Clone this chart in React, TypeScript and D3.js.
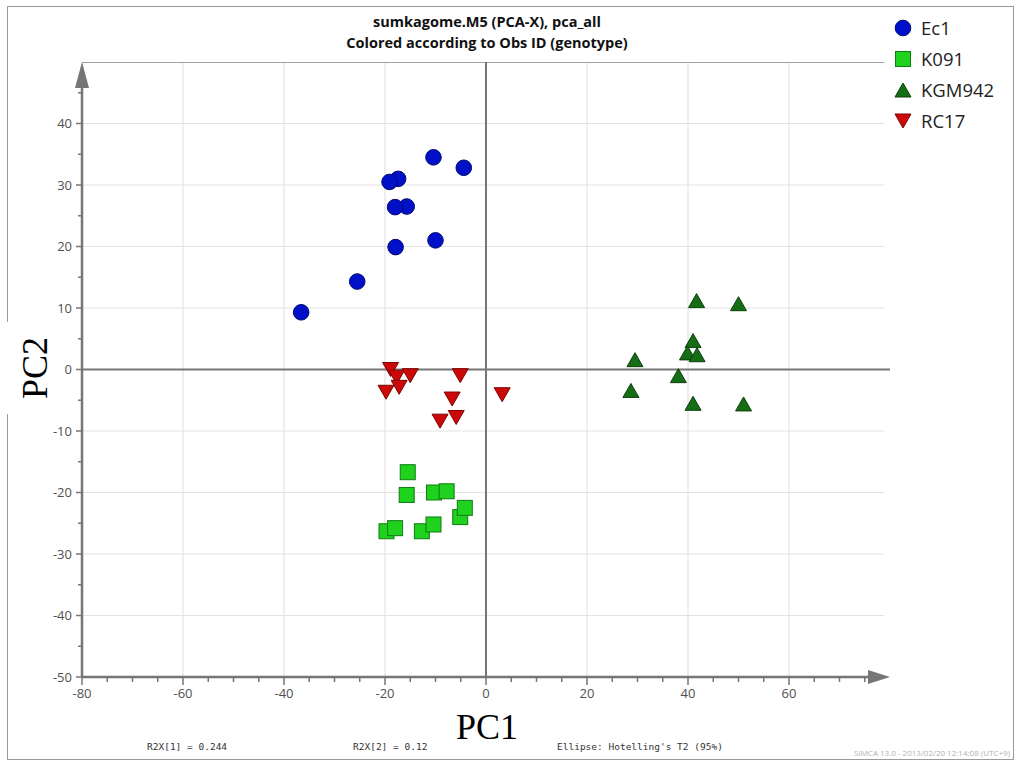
import React from "react";
import * as d3 from "d3";

const ec1X = [-10.4, -4.4, -17.4, -19.1, -15.7, -18.0, -10.0, -17.9, -25.5, -36.6];
const ec1Y = [34.5, 32.8, 31.0, 30.5, 26.5, 26.4, 21.0, 19.9, 14.3, 9.3];
const k091X = [-15.5, -15.7, -10.3, -7.8, -5.1, -4.2, -19.7, -18.0, -12.7, -10.4];
const k091Y = [-16.7, -20.4, -20.0, -19.8, -24.0, -22.5, -26.3, -25.8, -26.3, -25.2];
const kgmX = [41.7, 50.0, 41.0, 39.9, 41.8, 29.5, 38.1, 28.7, 41.0, 51.0];
const kgmY = [11.2, 10.7, 4.7, 2.7, 2.4, 1.6, -1.0, -3.4, -5.5, -5.6];
const rcX = [-18.9, -17.7, -15.0, -17.2, -19.8, -5.1, -6.7, -5.9, -9.1, 3.2];
const rcY = [0.0, -1.25, -1.0, -2.9, -3.7, -1.0, -4.8, -7.8, -8.4, -4.1];

const xTicks = [-80, -60, -40, -20, 0, 20, 40, 60];
const yTicks = [-50, -40, -30, -20, -10, 0, 10, 20, 30, 40];
const seriesNames = ["Ec1", "K091", "KGM942", "RC17"];

const titleLines = ["sumkagome.M5 (PCA-X), pca_all", "Colored according to Obs ID (genotype)"];
const footTexts = ["R2X[1] = 0.244", "R2X[2] = 0.12", "Ellipse: Hotelling's T2 (95%)"];

type Shape = "circle" | "square" | "up" | "down";
const styles: { shape: Shape; fill: string; stroke: string }[] = [
  { shape: "circle", fill: "#0010c8", stroke: "#000a6e" },
  { shape: "square", fill: "#1ed21e", stroke: "#127a12" },
  { shape: "up", fill: "#156e15", stroke: "#0c400c" },
  { shape: "down", fill: "#cc0808", stroke: "#7a0505" },
];

function Marker({ shape, x, y, fill, stroke, s = 1 }: { shape: Shape; x: number; y: number; fill: string; stroke: string; s?: number }) {
  if (shape === "circle") return <circle cx={x} cy={y} r={7.8 * s} fill={fill} stroke={stroke} strokeWidth={1} />;
  if (shape === "square") {
    const h = 7.5 * s;
    return <rect x={x - h} y={y - h} width={2 * h} height={2 * h} fill={fill} stroke={stroke} strokeWidth={1} />;
  }
  const w = 8 * s, hh = 7 * s;
  const pts = shape === "up"
    ? `${x},${y - hh} ${x + w},${y + hh} ${x - w},${y + hh}`
    : `${x},${y + hh} ${x + w},${y - hh} ${x - w},${y - hh}`;
  return <polygon points={pts} fill={fill} stroke={stroke} strokeWidth={1} strokeLinejoin="round" />;
}

export default function App() {
  const x = d3.scaleLinear().domain([-80, 80]).range([82, 890]);
  const y = d3.scaleLinear().domain([-50, 50]).range([677, 62]);
  const minorX = d3.range(-80, 80, 5).filter((v) => v % 20 !== 0);
  const minorY = d3.range(-50, 50, 5).filter((v) => v % 10 !== 0);
  const data = [
    { xs: ec1X, ys: ec1Y },
    { xs: k091X, ys: k091Y },
    { xs: kgmX, ys: kgmY },
    { xs: rcX, ys: rcY },
  ];
  const axisCol = "#767676";
  const gridCol = "#e3e3e3";
  const sans = "'Open Sans', 'DejaVu Sans', sans-serif";
  return (
    <div style={{ position: "absolute", left: 0, top: 0 }}>
      <svg width={1016} height={762} style={{ display: "block" }}>
        <rect x={0} y={0} width={1016} height={762} fill="#fff" />
        <rect x={7.5} y={6.5} width={1006} height={753} fill="none" stroke="#9a9a9a" strokeWidth={1} />
        {/* title */}
        {titleLines.map((t, i) => (
          <text key={t} x={487} y={27 + i * 21} textAnchor="middle" fontFamily={sans} fontWeight="bold" fontSize={14.5} fill="#111">{t}</text>
        ))}
        {/* grid */}
        {xTicks.filter((v) => v !== 0 && v !== -80).map((v) => (
          <line key={"gx" + v} x1={x(v)} x2={x(v)} y1={62} y2={677} stroke={gridCol} strokeWidth={1.2} />
        ))}
        {yTicks.filter((v) => v !== 0 && v !== -50).map((v) => (
          <line key={"gy" + v} x1={82} x2={884} y1={y(v)} y2={y(v)} stroke={gridCol} strokeWidth={1.2} />
        ))}
        <line x1={82} x2={884} y1={62.5} y2={62.5} stroke="#a0a0a0" strokeWidth={1} />
        {/* zero lines */}
        <line x1={x(0)} x2={x(0)} y1={62} y2={677} stroke={axisCol} strokeWidth={2} />
        <line x1={82} x2={890} y1={y(0)} y2={y(0)} stroke={axisCol} strokeWidth={2} />
        {/* axes */}
        <line x1={82} x2={872} y1={677} y2={677} stroke={axisCol} strokeWidth={2.5} />
        <polygon points={`${890},677 ${868},670 ${868},684`} fill={axisCol} />
        <line x1={82} x2={82} y1={677} y2={82} stroke={axisCol} strokeWidth={2.5} />
        <polygon points={`82,62 75,88 89,88`} fill={axisCol} />
        {/* ticks */}
        {xTicks.map((v) => (
          <g key={"tx" + v}>
            <line x1={x(v)} x2={x(v)} y1={677} y2={685} stroke={axisCol} strokeWidth={1.5} />
            <text x={x(v)} y={698} textAnchor="middle" fontFamily={sans} fontSize={13} fill="#505050">{v}</text>
          </g>
        ))}
        {minorX.map((v) => (
          <line key={"mx" + v} x1={x(v)} x2={x(v)} y1={677} y2={682} stroke={axisCol} strokeWidth={1.5} />
        ))}
        {yTicks.map((v) => (
          <g key={"ty" + v}>
            <line x1={76} x2={82} y1={y(v)} y2={y(v)} stroke={axisCol} strokeWidth={1.5} />
            <text x={72} y={y(v) + 4.5} textAnchor="end" fontFamily={sans} fontSize={13} fill="#505050">{v}</text>
          </g>
        ))}
        {minorY.map((v) => (
          <line key={"my" + v} x1={78} x2={82} y1={y(v)} y2={y(v)} stroke={axisCol} strokeWidth={1.5} />
        ))}
        {/* points */}
        {data.map((d, si) =>
          d.xs.map((xv, i) => (
            <Marker key={si + "-" + i} shape={styles[si].shape} x={x(xv)} y={y(d.ys[i])} fill={styles[si].fill} stroke={styles[si].stroke} />
          ))
        )}
        {/* legend */}
        <rect x={886} y={8} width={126} height={126} fill="#fff" />
        {seriesNames.map((n, i) => (
          <g key={n}>
            <Marker shape={styles[i].shape} x={903} y={28 + i * 31} fill={styles[i].fill} stroke={styles[i].stroke} />
            <text x={921} y={34.5 + i * 31} fontFamily={sans} fontSize={18.5} fill="#222">{n}</text>
          </g>
        ))}
        {/* axis titles */}
        <text x={487} y={739} textAnchor="middle" fontFamily="'Liberation Serif', 'Times New Roman', serif" fontSize={36} fill="#000">PC1</text>
        <rect x={2} y={322} width={56} height={92} fill="#fff" />
        <text transform="translate(47,368) rotate(-90)" textAnchor="middle" fontFamily="'Liberation Serif', 'Times New Roman', serif" fontSize={36} fill="#000">PC2</text>
        {/* footer */}
        <text x={147} y={750} fontFamily="'DejaVu Sans Mono', 'Liberation Mono', monospace" fontSize={9.5} fill="#333">{footTexts[0]}</text>
        <text x={353} y={750} fontFamily="'DejaVu Sans Mono', 'Liberation Mono', monospace" fontSize={9.5} fill="#333">{footTexts[1]}</text>
        <text x={557} y={750} fontFamily="'DejaVu Sans Mono', 'Liberation Mono', monospace" fontSize={9.5} fill="#333">{footTexts[2]}</text>
        <text x={1010} y={756} textAnchor="end" fontFamily={sans} fontSize={8} fill="#b0b0b0">SIMCA 13.0 - 2013/02/20 12:14:08 (UTC+9)</text>
      </svg>
    </div>
  );
}
